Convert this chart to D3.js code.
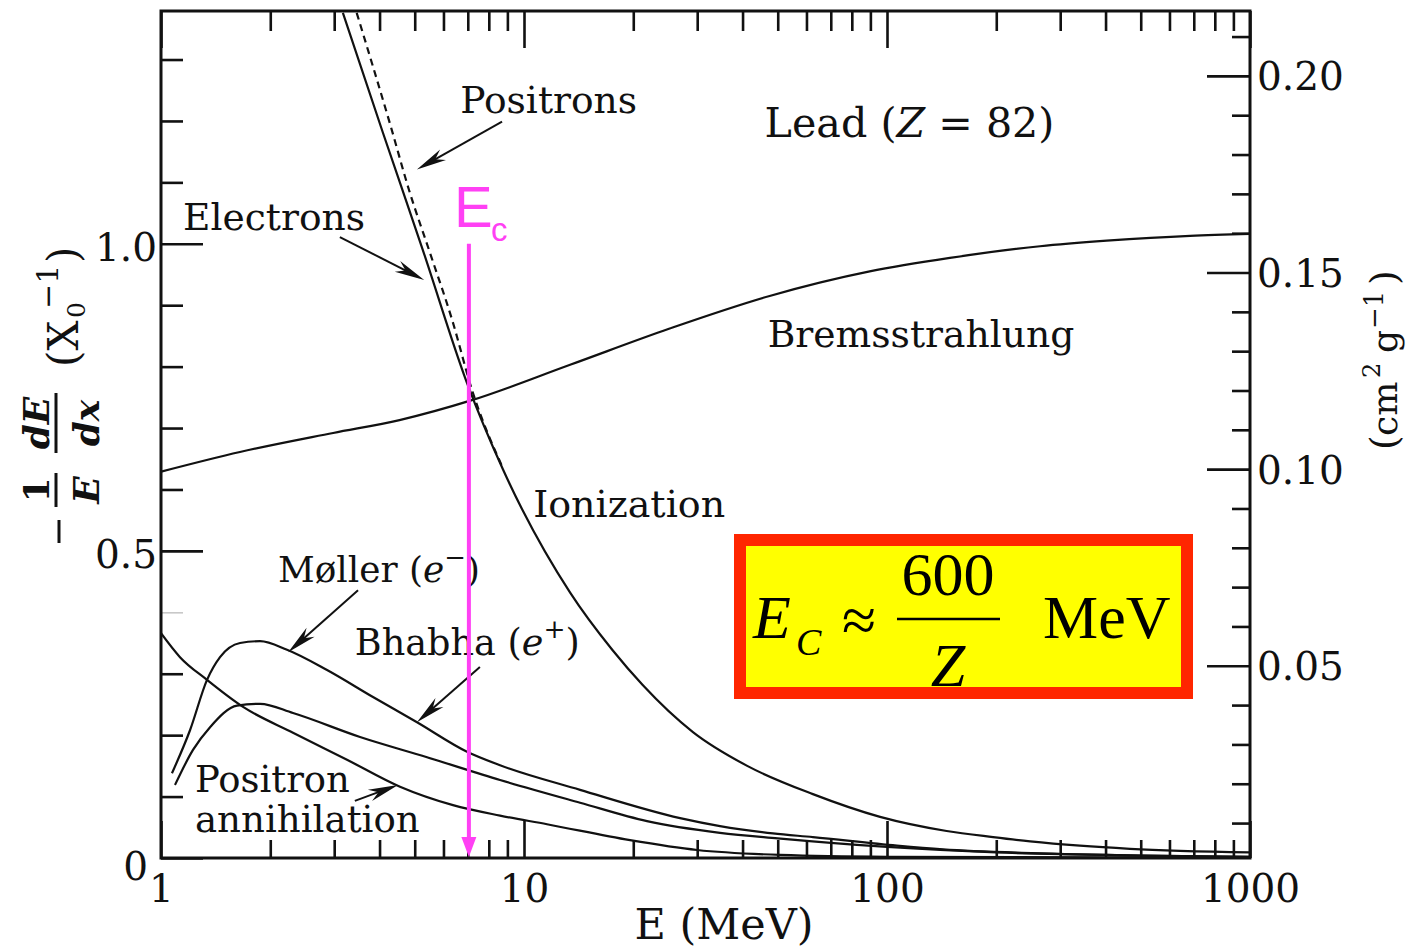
<!DOCTYPE html>
<html>
<head>
<meta charset="utf-8">
<script src="https://cdn.jsdelivr.net/npm/d3@7"></script>
<style>
  html, body { margin: 0; padding: 0; background: #ffffff; }
  svg { display: block; }
</style>
</head>
<body>
<svg id="chart" width="1412" height="949"></svg>
<script>
// Fractional energy loss per radiation length in lead, -1/E dE/dx (X0^-1), vs. E (MeV)

// Ionization, electrons (solid)
const ionElectronE    = [3.17, 4.08, 5.27, 6.96, 8.76, 13.4, 17.5, 21.2, 29.2, 41.2, 62.5, 95.7, 146, 196, 248, 340, 467, 1000];
const ionElectronLoss = [1.376, 1.182, 0.989, 0.774, 0.632, 0.432, 0.339, 0.282, 0.205, 0.150, 0.104, 0.067, 0.044, 0.034, 0.027, 0.020, 0.015, 0.009];

// Ionization, positrons (dashed) until it joins the electron curve
const ionPositronE    = [3.46, 4.30, 4.82, 5.51, 6.34, 7.19, 8.76];
const ionPositronLoss = [1.376, 1.190, 1.088, 0.985, 0.876, 0.762, 0.634];

// Bremsstrahlung
const bremE    = [1, 1.65, 2.98, 4.54, 7.15, 13.4, 25.2, 47.5, 89.6, 149, 264, 403, 684, 1000];
const bremLoss = [0.629, 0.661, 0.692, 0.713, 0.745, 0.803, 0.862, 0.915, 0.955, 0.977, 0.996, 1.005, 1.013, 1.016];

// Møller scattering (e-)
const mollerE    = [1.072, 1.202, 1.339, 1.454, 1.651, 1.874, 2.224, 2.867, 3.837, 5.073, 6.966, 8.59, 14.27, 26.91, 34.67, 48.5, 62.5, 106.5, 142.6, 250, 500, 1000];
const mollerLoss = [0.138, 0.208, 0.290, 0.327, 0.350, 0.353, 0.339, 0.306, 0.262, 0.221, 0.173, 0.151, 0.111, 0.065, 0.052, 0.040, 0.034, 0.020, 0.014, 0.008, 0.004, 0.002];

// Bhabha scattering (e+)
const bhabhaE    = [1.093, 1.225, 1.365, 1.62, 1.874, 2.31, 3.534, 5.406, 8.59, 14.27, 21.82, 34.67, 50, 100, 200, 500, 1000];
const bhabhaLoss = [0.119, 0.176, 0.213, 0.248, 0.251, 0.236, 0.197, 0.164, 0.127, 0.090, 0.060, 0.041, 0.032, 0.018, 0.009, 0.004, 0.002];

// Positron annihilation
const annihE    = [1.0, 1.128, 1.339, 1.683, 2.31, 3.254, 4.554, 6.374, 8.59, 11.57, 19.59, 29.97, 50.7, 100, 1000];
const annihLoss = [0.366, 0.327, 0.290, 0.246, 0.204, 0.160, 0.116, 0.086, 0.069, 0.055, 0.029, 0.013, 0.005, 0.002, 0.0003];

// Critical energy marker (MeV)
const criticalEnergy = 7.05;

// Axis ticks and labels
const xMajorTicks  = [1, 10, 100, 1000];
const xTickLabels  = ["1", "10", "100", "1000"];
const yLeftTicks   = [0, 0.5, 1.0];
const yLeftLabels  = ["0", "0.5", "1.0"];
const yLeftMinor   = [0.1, 0.2, 0.3, 0.4, 0.6, 0.7, 0.8, 0.9, 1.1, 1.2, 1.3];
const yRightTicks  = [0.05, 0.10, 0.15, 0.20];
const yRightLabels = ["0.05", "0.10", "0.15", "0.20"];
const yRightMinor  = [0.01, 0.02, 0.03, 0.04, 0.06, 0.07, 0.08, 0.09, 0.11, 0.12, 0.13, 0.14, 0.16, 0.17, 0.18, 0.19, 0.21];

// ---------------------------------------------------------------------------
const INK = "#111";
const SERIF = "'DejaVu Serif', serif";
const TIMES = "'Liberation Serif', 'Times New Roman', serif";
const SANS = "'Liberation Sans', Arial, sans-serif";
const MAGENTA = "#ff40f4";

const svg = d3.select("#chart");
const plot = { left: 161, right: 1250, top: 11, bottom: 858 };

const x  = d3.scaleLog().domain([1, 1000]).range([plot.left, plot.right]);
const y  = d3.scaleLinear().domain([0, 1.379]).range([plot.bottom, plot.top]);
const yR = d3.scaleLinear().domain([0, 0.2165]).range([862.4, plot.top]);

svg.append("rect").attr("width", 1412).attr("height", 949).attr("fill", "#fff");

svg.append("defs").append("clipPath").attr("id", "plot-clip")
  .append("rect")
  .attr("x", plot.left).attr("y", plot.top)
  .attr("width", plot.right - plot.left).attr("height", plot.bottom - plot.top);

const minorX = [];
[1, 10, 100].forEach(d => { for (let k = 2; k <= 9; k++) minorX.push(d * k); });

function styleAxis(g) {
  g.selectAll(".domain").remove();
  g.selectAll(".tick line").attr("stroke", INK).attr("stroke-width", 2.6);
  g.selectAll("text").attr("fill", INK);
  g.attr("font-family", SERIF).attr("font-size", 39);
}

// bottom axis
const gBottom = svg.append("g").attr("transform", `translate(0,${plot.bottom})`);
gBottom.call(d3.axisBottom(x).tickValues(xMajorTicks).tickFormat((d, i) => xTickLabels[i])
  .tickSizeInner(-37).tickSizeOuter(0).tickPadding(16));
gBottom.append("g").call(d3.axisBottom(x).tickValues(minorX).tickFormat("")
  .tickSizeInner(-18).tickSizeOuter(0));
styleAxis(gBottom);

// top axis
const gTop = svg.append("g").attr("transform", `translate(0,${plot.top})`);
gTop.call(d3.axisTop(x).tickValues(xMajorTicks).tickFormat("").tickSizeInner(-37).tickSizeOuter(0));
gTop.append("g").call(d3.axisTop(x).tickValues(minorX).tickFormat("").tickSizeInner(-20).tickSizeOuter(0));
styleAxis(gTop);

// left axis
const gLeft = svg.append("g").attr("transform", `translate(${plot.left},0)`);
gLeft.call(d3.axisLeft(y).tickValues(yLeftTicks).tickFormat((d, i) => yLeftLabels[i])
  .tickSizeInner(-42).tickSizeOuter(0).tickPadding(4));
gLeft.append("g").call(d3.axisLeft(y).tickValues(yLeftMinor).tickFormat("")
  .tickSizeInner(-22).tickSizeOuter(0));
styleAxis(gLeft);
gLeft.selectAll(".tick text").attr("dy", "0.42em");
gLeft.selectAll(".tick").filter(d => d === 0).select("text").attr("x", -13).attr("y", 5);
// the 0.4 tick is printed faintly
gLeft.selectAll(".tick").filter(d => d === 0.4).select("line").attr("stroke", "#c8c8c8").attr("stroke-width", 1.6);

// right axis (cm^2 g^-1)
const gRight = svg.append("g").attr("transform", `translate(${plot.right},0)`);
gRight.call(d3.axisRight(yR).tickValues(yRightTicks).tickFormat((d, i) => yRightLabels[i])
  .tickSizeInner(-43).tickSizeOuter(0).tickPadding(7));
gRight.append("g").call(d3.axisRight(yR).tickValues(yRightMinor).tickFormat("")
  .tickSizeInner(-18).tickSizeOuter(0));
styleAxis(gRight);
gRight.selectAll(".tick text").attr("dy", "0.36em");

// frame
svg.append("rect")
  .attr("x", plot.left).attr("y", plot.top)
  .attr("width", plot.right - plot.left).attr("height", plot.bottom - plot.top)
  .attr("fill", "none").attr("stroke", INK).attr("stroke-width", 3);

// curves
const line = d3.line().x(d => x(d[0])).y(d => y(d[1])).curve(d3.curveMonotoneX);
const zip = (a, b) => a.map((v, i) => [v, b[i]]);

const curves = svg.append("g").attr("clip-path", "url(#plot-clip)")
  .attr("fill", "none").attr("stroke", INK).attr("stroke-width", 2.2);

curves.append("path").datum(zip(bremE, bremLoss)).attr("d", line);
curves.append("path").datum(zip(ionElectronE, ionElectronLoss)).attr("d", line);
curves.append("path").datum(zip(ionPositronE, ionPositronLoss)).attr("d", line)
  .attr("stroke-dasharray", "7,5");
curves.append("path").datum(zip(mollerE, mollerLoss)).attr("d", line);
curves.append("path").datum(zip(bhabhaE, bhabhaLoss)).attr("d", line);
curves.append("path").datum(zip(annihE, annihLoss)).attr("d", line);

// annotation arrows (data coordinates)
const arrows = [
  { from: [8.70, 1.199], to: [5.07, 1.121] },   // Positrons
  { from: [3.11, 1.011], to: [5.31, 0.941] },   // Electrons
  { from: [3.49, 0.436], to: [2.24, 0.335] },   // Møller
  { from: [7.56, 0.311], to: [5.07, 0.221] },   // Bhabha
  { from: [3.42, 0.093], to: [4.50, 0.119] }    // Positron annihilation
];
const gArrows = svg.append("g");
arrows.forEach(a => {
  const x0 = x(a.from[0]), y0 = y(a.from[1]);
  const x1 = x(a.to[0]),   y1 = y(a.to[1]);
  const dx = x1 - x0, dy = y1 - y0, len = Math.hypot(dx, dy);
  const ux = dx / len, uy = dy / len, hl = 30, hw = 6;
  gArrows.append("line").attr("x1", x0).attr("y1", y0).attr("x2", x1 - ux * 8).attr("y2", y1 - uy * 8)
    .attr("stroke", INK).attr("stroke-width", 2);
  const bx = x1 - ux * hl, by = y1 - uy * hl;
  gArrows.append("polygon")
    .attr("points", [[x1, y1], [bx - uy * hw, by + ux * hw], [x1 - ux * hl * 0.7, y1 - uy * hl * 0.7], [bx + uy * hw, by - ux * hw]].map(p => p.join(",")).join(" "))
    .attr("fill", INK);
});

// annotation labels (data coordinates of left end / baseline)
const annotations = [
  { parts: [{ t: "Positrons" }], at: [6.67, 1.213], width: 177 },
  { parts: [{ t: "Lead  (" }, { t: "Z", it: true }, { t: " = 82)" }], at: [46.0, 1.174], width: 290 },
  { parts: [{ t: "Electrons" }], at: [1.150, 1.023], width: 182 },
  { parts: [{ t: "Bremsstrahlung" }], at: [46.9, 0.832], width: 307 },
  { parts: [{ t: "Ionization" }], at: [10.6, 0.555], width: 192 },
  { parts: [{ t: "Møller (" }, { t: "e", it: true }, { t: "−", sup: true }, { t: ")" }], at: [2.10, 0.450], width: 202 },
  { parts: [{ t: "Bhabha (" }, { t: "e", it: true }, { t: "+", sup: true }, { t: ")" }], at: [3.42, 0.331], width: 225 },
  { parts: [{ t: "Positron" }], at: [1.24, 0.107], width: 155 },
  { parts: [{ t: "annihilation" }], at: [1.24, 0.042], width: 225 }
];
const gLabels = svg.append("g").attr("font-family", SERIF).attr("fill", INK);
annotations.forEach(a => {
  const txt = gLabels.append("text").attr("x", x(a.at[0])).attr("y", y(a.at[1])).attr("font-size", 37);
  let raised = false;
  a.parts.forEach(p => {
    const ts = txt.append("tspan").text(p.t);
    if (p.it) ts.attr("font-style", "italic");
    if (p.sup) { ts.attr("font-size", "0.72em").attr("dy", "-0.62em"); raised = true; }
    else if (raised) { ts.attr("dy", "0.45em"); raised = false; }
  });
  const w = txt.node().getBBox().width;
  txt.attr("font-size", 37 * a.width / w);
});

// critical energy marker
const xc = x(criticalEnergy);
const gEc = svg.append("g");
gEc.append("line").attr("x1", xc).attr("x2", xc).attr("y1", y(1.0)).attr("y2", y(0) - 14)
  .attr("stroke", MAGENTA).attr("stroke-width", 4);
gEc.append("polygon")
  .attr("points", `${xc - 7.5},${y(0) - 21} ${xc},${y(0) - 1} ${xc + 7.5},${y(0) - 21}`)
  .attr("fill", MAGENTA);
gEc.append("text").attr("x", xc - 15).attr("y", y(1.0) - 17)
  .attr("font-family", SANS).attr("font-size", 58)
  .attr("fill", MAGENTA).text("E");
gEc.append("text").attr("x", xc + 22).attr("y", y(1.0) - 3)
  .attr("font-family", SANS).attr("font-size", 33)
  .attr("fill", MAGENTA).text("c");

// left axis title: -(1/E)(dE/dx) (X0^-1)
const gLT = svg.append("g").attr("transform", "translate(57,545) rotate(-90)")
  .attr("font-family", SERIF).attr("fill", INK);
gLT.append("line").attr("x1", 2).attr("x2", 25).attr("y1", 2).attr("y2", 2).attr("stroke", INK).attr("stroke-width", 3);
gLT.append("text").attr("x", 55).attr("y", -8).attr("text-anchor", "middle")
  .attr("font-weight", "bold").attr("font-size", 36).text("1");
gLT.append("line").attr("x1", 38).attr("x2", 72).attr("y1", -1).attr("y2", -1).attr("stroke", INK).attr("stroke-width", 3);
gLT.append("text").attr("x", 55).attr("y", 42).attr("text-anchor", "middle")
  .attr("font-weight", "bold").attr("font-style", "italic").attr("font-size", 36).text("E");
gLT.append("text").attr("x", 122).attr("y", -8).attr("text-anchor", "middle")
  .attr("font-weight", "bold").attr("font-style", "italic").attr("font-size", 36).text("dE");
gLT.append("line").attr("x1", 92).attr("x2", 152).attr("y1", -1).attr("y2", -1).attr("stroke", INK).attr("stroke-width", 3);
gLT.append("text").attr("x", 122).attr("y", 42).attr("text-anchor", "middle")
  .attr("font-weight", "bold").attr("font-style", "italic").attr("font-size", 36).text("dx");
gLT.append("text").attr("x", 178).attr("y", 21).attr("font-size", 42).text("(X");
gLT.append("text").attr("x", 227).attr("y", 28).attr("font-size", 25).text("0");
gLT.append("text").attr("x", 236).attr("y", 1).attr("font-size", 30).text("−1");
gLT.append("text").attr("x", 282).attr("y", 21).attr("font-size", 42).text(")");

// right axis title: (cm^2 g^-1)
const gRT = svg.append("g").attr("transform", "translate(1397,450) rotate(-90)")
  .attr("font-family", SERIF).attr("fill", INK);
gRT.append("text").attr("x", 0).attr("y", 0).attr("font-size", 38).text("(");
gRT.append("text").attr("x", 14).attr("y", 0).attr("font-size", 36).text("cm");
gRT.append("text").attr("x", 72).attr("y", -17).attr("font-size", 24).text("2");
gRT.append("text").attr("x", 97).attr("y", 0).attr("font-size", 36).text("g");
gRT.append("text").attr("x", 121).attr("y", -14).attr("font-size", 26).text("−1");
gRT.append("text").attr("x", 165).attr("y", 0).attr("font-size", 38).text(")");

// bottom axis title
svg.append("text").attr("x", 724).attr("y", 939).attr("text-anchor", "middle")
  .attr("font-family", SERIF).attr("font-size", 43).attr("fill", INK).text("E (MeV)");

// boxed formula: E_C ≈ 600/Z MeV
const gBox = svg.append("g").attr("font-family", TIMES).attr("fill", "#000");
gBox.append("rect").attr("x", 740).attr("y", 540).attr("width", 447).attr("height", 153)
  .attr("fill", "#ffff00").attr("stroke", "#ff2600").attr("stroke-width", 12);
gBox.append("text").attr("x", 753).attr("y", 638).attr("font-style", "italic").attr("font-size", 62).text("E");
gBox.append("text").attr("x", 796).attr("y", 655).attr("font-style", "italic").attr("font-size", 38).text("C");
gBox.append("text").attr("x", 842).attr("y", 641).attr("font-size", 62).text("≈");
gBox.append("line").attr("x1", 897).attr("x2", 1000).attr("y1", 619).attr("y2", 619)
  .attr("stroke", "#000").attr("stroke-width", 2.5);
gBox.append("text").attr("x", 948).attr("y", 595).attr("text-anchor", "middle").attr("font-size", 62).text("600");
gBox.append("text").attr("x", 948).attr("y", 686).attr("text-anchor", "middle").attr("font-style", "italic").attr("font-size", 62).text("Z");
gBox.append("text").attr("x", 1043).attr("y", 638).attr("font-size", 62).text("MeV");
</script>
</body>
</html>
